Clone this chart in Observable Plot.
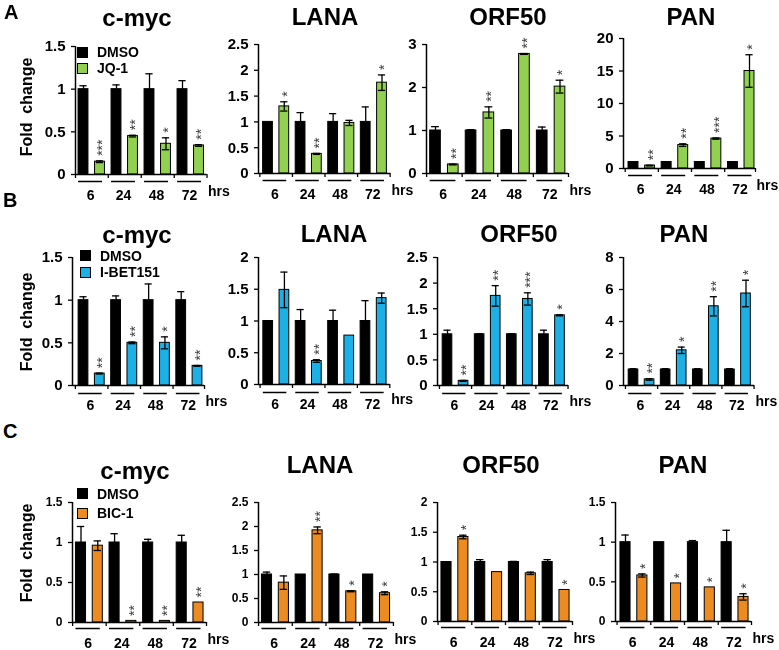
<!DOCTYPE html>
<html>
<head>
<meta charset="utf-8">
<script src="https://cdn.jsdelivr.net/npm/d3@7"></script>
<script src="https://cdn.jsdelivr.net/npm/@observablehq/plot@0.6"></script>
<style>
  html, body { margin: 0; padding: 0; background: #fff; }
  #fig { position: relative; width: 779px; height: 650px; overflow: hidden; background: #fff;
         font-family: "Liberation Sans", Arial, sans-serif; color: #000; }
  .t { position: absolute; white-space: pre; font-weight: bold; line-height: 1; }
  .sw { position: absolute; width: 9px; height: 9px; border: 1px solid #000; }
  .panel { position: absolute; will-change: transform; background: transparent; }
</style>
</head>
<body>
<div id="fig"></div>
<script>
// ---------------- data ----------------
const hours = ["6", "24", "48", "72"];
const rowLetters = ["A", "B", "C"];
const genes = ["c-myc", "LANA", "ORF50", "PAN"];
const control = "DMSO";
const treatments = ["JQ-1", "I-BET151", "BIC-1"];
const treatmentColors = ["#92d050", "#1cb0e6", "#ec8b1f"];
const yLabel = "Fold  change";
const unitLabel = "hrs";

// Row A : JQ-1
const A_cmyc_dmso = [1, 1, 1, 1];
const A_cmyc_dmsoErr = [0.04, 0.05, 0.18, 0.1];
const A_cmyc_drug = [0.15, 0.45, 0.36, 0.34];
const A_cmyc_drugErr = [0.01, 0.01, 0.07, 0.01];
const A_cmyc_sig = ["***", "**", "*", "**"];
const A_cmyc_ticks = [0, 0.5, 1, 1.5];

const A_lana_dmso = [1, 1, 1, 1];
const A_lana_dmsoErr = [0, 0.18, 0.16, 0.29];
const A_lana_drug = [1.3, 0.38, 0.98, 1.76];
const A_lana_drugErr = [0.09, 0.01, 0.05, 0.15];
const A_lana_sig = ["*", "**", "", "*"];
const A_lana_ticks = [0, 0.5, 1, 1.5, 2, 2.5];

const A_orf50_dmso = [1, 1, 1, 1];
const A_orf50_dmsoErr = [0.09, 0.02, 0.02, 0.08];
const A_orf50_drug = [0.21, 1.42, 2.78, 2.02];
const A_orf50_drugErr = [0.01, 0.13, 0.01, 0.15];
const A_orf50_sig = ["**", "**", "**", "*"];
const A_orf50_ticks = [0, 1, 2, 3];

const A_pan_dmso = [1, 1, 1, 1];
const A_pan_dmsoErr = [0.05, 0.05, 0.05, 0.05];
const A_pan_drug = [0.45, 3.6, 4.6, 15];
const A_pan_drugErr = [0.05, 0.2, 0.1, 2.5];
const A_pan_sig = ["**", "**", "***", "*"];
const A_pan_ticks = [0, 5, 10, 15, 20];

// Row B : I-BET151
const B_cmyc_dmso = [1, 1, 1, 1];
const B_cmyc_dmsoErr = [0.04, 0.05, 0.19, 0.1];
const B_cmyc_drug = [0.14, 0.5, 0.5, 0.23];
const B_cmyc_drugErr = [0.005, 0.01, 0.07, 0.005];
const B_cmyc_sig = ["**", "**", "*", "**"];
const B_cmyc_ticks = [0, 0.5, 1, 1.5];

const B_lana_dmso = [1, 1, 1, 1];
const B_lana_dmsoErr = [0, 0.18, 0.17, 0.32];
const B_lana_drug = [1.49, 0.37, 0.77, 1.36];
const B_lana_drugErr = [0.28, 0.02, 0, 0.08];
const B_lana_sig = ["", "**", "", ""];
const B_lana_ticks = [0, 0.5, 1, 1.5, 2];

const B_orf50_dmso = [1, 1, 1, 1];
const B_orf50_dmsoErr = [0.08, 0.01, 0.01, 0.08];
const B_orf50_drug = [0.09, 1.75, 1.69, 1.37];
const B_orf50_drugErr = [0.01, 0.2, 0.12, 0.01];
const B_orf50_sig = ["**", "**", "***", "*"];
const B_orf50_ticks = [0, 0.5, 1, 1.5, 2, 2.5];

const B_pan_dmso = [1, 1, 1, 1];
const B_pan_dmsoErr = [0.05, 0.05, 0.05, 0.05];
const B_pan_drug = [0.38, 2.2, 4.95, 5.75];
const B_pan_drugErr = [0.05, 0.2, 0.6, 0.83];
const B_pan_sig = ["**", "*", "**", "*"];
const B_pan_ticks = [0, 2, 4, 6, 8];

// Row C : BIC-1
const C_cmyc_dmso = [1, 1, 1, 1];
const C_cmyc_dmsoErr = [0.2, 0.11, 0.04, 0.09];
const C_cmyc_drug = [0.96, 0.02, 0.02, 0.25];
const C_cmyc_drugErr = [0.06, 0, 0, 0];
const C_cmyc_sig = ["", "**", "**", "**"];
const C_cmyc_ticks = [0, 0.5, 1, 1.5];

const C_lana_dmso = [1, 1, 1, 1];
const C_lana_dmsoErr = [0.05, 0, 0.01, 0];
const C_lana_drug = [0.83, 1.92, 0.65, 0.61];
const C_lana_drugErr = [0.14, 0.07, 0.01, 0.03];
const C_lana_sig = ["", "**", "*", "*"];
const C_lana_ticks = [0, 0.5, 1, 1.5, 2, 2.5];

const C_orf50_dmso = [1, 1, 1, 1];
const C_orf50_dmsoErr = [0, 0.04, 0.01, 0.04];
const C_orf50_drug = [1.42, 0.83, 0.81, 0.53];
const C_orf50_drugErr = [0.03, 0, 0.02, 0];
const C_orf50_sig = ["*", "", "", "*"];
const C_orf50_ticks = [0, 0.5, 1, 1.5, 2];

const C_pan_dmso = [1, 1, 1, 1];
const C_pan_dmsoErr = [0.09, 0, 0.02, 0.15];
const C_pan_drug = [0.58, 0.48, 0.43, 0.31];
const C_pan_drugErr = [0.02, 0, 0, 0.04];
const C_pan_sig = ["*", "*", "*", "*"];
const C_pan_ticks = [0, 0.5, 1, 1.5];

const panelData = [
  [
    [A_cmyc_dmso, A_cmyc_dmsoErr, A_cmyc_drug, A_cmyc_drugErr, A_cmyc_sig, A_cmyc_ticks],
    [A_lana_dmso, A_lana_dmsoErr, A_lana_drug, A_lana_drugErr, A_lana_sig, A_lana_ticks],
    [A_orf50_dmso, A_orf50_dmsoErr, A_orf50_drug, A_orf50_drugErr, A_orf50_sig, A_orf50_ticks],
    [A_pan_dmso, A_pan_dmsoErr, A_pan_drug, A_pan_drugErr, A_pan_sig, A_pan_ticks]
  ],
  [
    [B_cmyc_dmso, B_cmyc_dmsoErr, B_cmyc_drug, B_cmyc_drugErr, B_cmyc_sig, B_cmyc_ticks],
    [B_lana_dmso, B_lana_dmsoErr, B_lana_drug, B_lana_drugErr, B_lana_sig, B_lana_ticks],
    [B_orf50_dmso, B_orf50_dmsoErr, B_orf50_drug, B_orf50_drugErr, B_orf50_sig, B_orf50_ticks],
    [B_pan_dmso, B_pan_dmsoErr, B_pan_drug, B_pan_drugErr, B_pan_sig, B_pan_ticks]
  ],
  [
    [C_cmyc_dmso, C_cmyc_dmsoErr, C_cmyc_drug, C_cmyc_drugErr, C_cmyc_sig, C_cmyc_ticks],
    [C_lana_dmso, C_lana_dmsoErr, C_lana_drug, C_lana_drugErr, C_lana_sig, C_lana_ticks],
    [C_orf50_dmso, C_orf50_dmsoErr, C_orf50_drug, C_orf50_drugErr, C_orf50_sig, C_orf50_ticks],
    [C_pan_dmso, C_pan_dmsoErr, C_pan_drug, C_pan_drugErr, C_pan_sig, C_pan_ticks]
  ]
];

// ---------------- layout (pixels) ----------------
// [axisLeft, firstBarCenter, lastBarCenter, axisRight, yTop, yZero]
const geo = [
  [[74.5, 82.5, 198, 206, 46, 174], [258, 267.5, 381.5, 390, 44, 173], [426, 435, 559.5, 568, 44, 173], [623, 633, 749, 755, 38, 168]],
  [[72, 83, 197, 204, 257, 385], [258.3, 268, 381.5, 390, 257, 384], [437, 447, 559.5, 568, 257, 385], [623, 633, 745.5, 754, 257, 385]],
  [[72, 80.5, 198, 206, 502, 622], [258, 266.5, 384.5, 393, 502, 622], [437, 446, 564, 572, 502, 621], [615, 625, 743, 751, 502, 621]]
];
const titleGeo = [
  [[137, 26], [325, 25], [508, 25], [691, 25]],
  [[137, 243], [334, 242], [519, 242], [684, 242]],
  [[135, 479], [320, 473], [501, 473], [683, 473]]
];
const rowStyle = [
  {tickFont: 15, labelDy: 21, lineDy: 7},
  {tickFont: 15, labelDy: 20, lineDy: 8},
  {tickFont: 12, labelDy: 21.5, lineDy: 6}
];
const legendGeo = [[77, 52, 68, 97], [80, 255.5, 272, 100], [77, 493.5, 513, 97]];
const foldGeo = [[27, 107], [27, 322], [27, 553]];
const letterGeo = [[4, 19], [3, 207], [3, 438]];

const fig = document.getElementById("fig");
const FONT = '"Liberation Sans", Arial, sans-serif';
const fmt = d3.format("~g");

function addText(txt, left, baseline, size, extra = {}) {
  const d = document.createElement("div");
  d.className = "t";
  d.textContent = txt;
  d.style.fontSize = size + "px";
  d.style.left = left + "px";
  d.style.top = (baseline - 0.8465 * size) + "px";
  Object.assign(d.style, extra);
  fig.appendChild(d);
  return d;
}

function drawPanel(r, c) {
  const [dmso, dmsoErr, drug, drugErr, sig, ticks] = panelData[r][c];
  const [axL, c0, c7, axR, yTop, yZero] = geo[r][c];
  const color = treatmentColors[r];
  const rs = rowStyle[r];
  const step = (c7 - c0) / 7;
  const dL = (axL - c0) / step, dR = 7 + (axR - c7) / step;
  const mL = 45, mR = 34, mT = 24, mB = 36;
  const W = axR - axL + mL + mR, H = yZero - yTop + mT + mB;
  const rows = hours.flatMap((h, g) => [
    {g, pos: 2 * g, v: dmso[g], e: dmsoErr[g], s: "", drug: false},
    {g, pos: 2 * g + 1, v: drug[g], e: drugErr[g], s: sig[g], drug: true}
  ]);
  const eb = rows.filter(d => d.e > 0);
  const bounds = hours.map((h, g) => Math.max(dL, 2 * g - 0.5)).concat([Math.min(dR, 7.5)]);
  const hw = 0.3, cw = 0.22;
  const svg = Plot.plot({
    width: W, height: H,
    marginLeft: mL, marginRight: mR, marginTop: mT, marginBottom: mB,
    x: {type: "linear", domain: [dL, dR], axis: null},
    y: {type: "linear", domain: [0, ticks[ticks.length - 1]], axis: null},
    style: {fontFamily: FONT, fontWeight: "bold", fontSize: "14px", overflow: "visible",
            background: "transparent", maxWidth: "none", color: "#000"},
    marks: [
      Plot.rectY(rows.filter(d => !d.drug), {x1: d => d.pos - hw, x2: d => d.pos + hw, y1: 0, y2: d => d.v,
        fill: "#000", stroke: "#000", strokeWidth: 1}),
      Plot.rectY(rows.filter(d => d.drug), {x1: d => d.pos - hw, x2: d => d.pos + hw, y1: 0, y2: d => d.v,
        fill: color, stroke: "#000", strokeWidth: 1}),
      Plot.ruleX(eb, {x: "pos", y1: d => d.v - d.e, y2: d => d.v + d.e, stroke: "#000", strokeWidth: 1.3}),
      Plot.ruleY(eb, {x1: d => d.pos - cw, x2: d => d.pos + cw, y: d => d.v + d.e, stroke: "#000", strokeWidth: 1.3}),
      Plot.ruleY(eb, {x1: d => d.pos - cw, x2: d => d.pos + cw, y: d => d.v - d.e, stroke: "#000", strokeWidth: 1.3}),
      Plot.text(rows.filter(d => d.s), {x: "pos", y: d => d.v + d.e, text: "s", rotate: -90,
        textAnchor: "start", lineAnchor: "middle", dx: 3, dy: -5, fontSize: 14, fontWeight: "normal", fill: "#3a3a3a"}),
      Plot.ruleX([dL], {x: d => d, stroke: "#000", strokeWidth: 1.5}),
      Plot.ruleY([0], {y: d => d, stroke: "#000", strokeWidth: 1.5}),
      Plot.axisY({ticks, tickSize: 4, tickPadding: 6, tickFormat: fmt, label: null,
        fontSize: rs.tickFont, fontWeight: "bold", strokeWidth: 1.3}),
      Plot.axisX({ticks: bounds, tickSize: 4, tickFormat: () => "", label: null, strokeWidth: 1.3}),
      Plot.ruleY(hours, {x1: (d, i) => 2 * i - 0.3, x2: (d, i) => 2 * i + 1.15, y: () => 0, dy: rs.lineDy,
        stroke: "#000", strokeWidth: 1.5}),
      Plot.text(hours, {x: (d, i) => 2 * i + 0.43, y: () => 0, text: d => d, dy: rs.labelDy,
        fontSize: 14, fontWeight: "bold", fill: "#000"}),
      Plot.text([unitLabel], {frameAnchor: "bottom-right", text: d => d, dx: 1, dy: rs.labelDy,
        textAnchor: "start", fontSize: 14, fontWeight: "bold", fill: "#000"})
    ]
  });
  const holder = document.createElement("div");
  holder.className = "panel";
  holder.style.left = (axL - mL) + "px";
  holder.style.top = (yTop - mT) + "px";
  holder.style.width = W + "px";
  holder.style.height = H + "px";
  holder.appendChild(svg);
  fig.appendChild(holder);

  // title
  const [tx, tb] = titleGeo[r][c];
  addText(genes[c], tx, tb, 24, {transform: "translateX(-50%)"});
}

for (let r = 0; r < 3; r++) {
  for (let c = 0; c < 4; c++) drawPanel(r, c);

  // panel letter
  addText(rowLetters[r], letterGeo[r][0], letterGeo[r][1], 20);

  // y label
  const f = document.createElement("div");
  f.className = "t";
  f.textContent = yLabel;
  f.style.fontSize = "16px";
  f.style.left = foldGeo[r][0] + "px";
  f.style.top = foldGeo[r][1] + "px";
  f.style.transform = "translate(-50%, -50%) rotate(-90deg)";
  fig.appendChild(f);

  // legend
  const [sx, y1, y2, tx] = legendGeo[r];
  [[control, "#000", y1], [treatments[r], treatmentColors[r], y2]].forEach(([name, col, cy]) => {
    const s = document.createElement("div");
    s.className = "sw";
    s.style.left = sx + "px";
    s.style.top = (cy - 5.5) + "px";
    s.style.background = col;
    fig.appendChild(s);
    const d = document.createElement("div");
    d.className = "t";
    d.textContent = name;
    d.style.fontSize = "14px";
    d.style.left = tx + "px";
    d.style.top = (cy - 6.84) + "px";
    fig.appendChild(d);
  });
}
</script>
</body>
</html>
